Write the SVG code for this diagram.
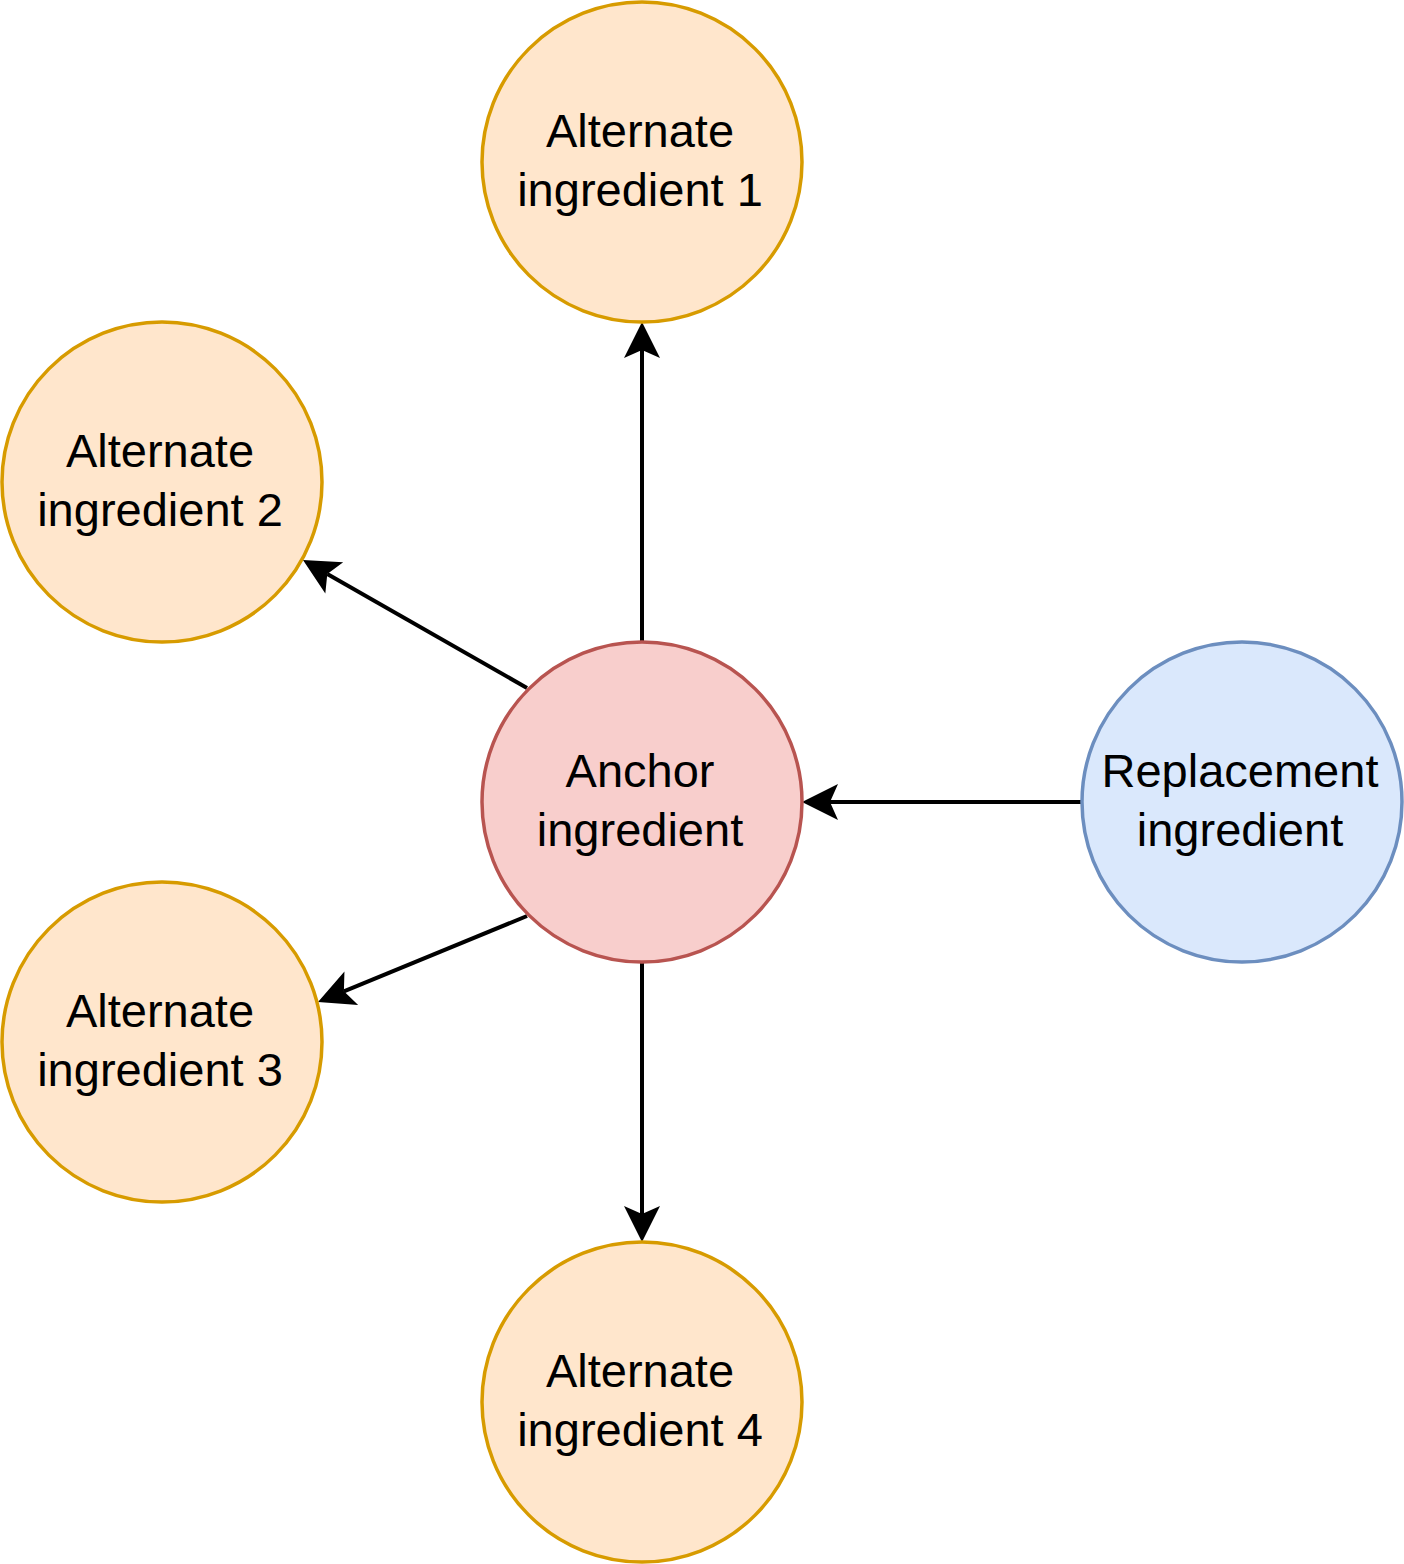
<svg xmlns="http://www.w3.org/2000/svg" width="1404" height="1564" viewBox="0 0 1404 1564">
<defs>
<style>
.alt{fill:#ffe6cc;stroke:#d79b00;stroke-width:3.5}
.anc{fill:#f8cecc;stroke:#b85450;stroke-width:3.5}
.rep{fill:#dae8fc;stroke:#6c8ebf;stroke-width:3.5}
text{font-family:"Liberation Sans",Arial,Helvetica,sans-serif;font-size:47px;fill:#000;text-anchor:middle}
.edge{stroke:#000;stroke-width:4;fill:none;marker-end:url(#arr)}
</style>
<marker id="arr" markerUnits="userSpaceOnUse" viewBox="-10 -20 40 40" refX="0" refY="0" markerWidth="40" markerHeight="40" orient="auto">
<path d="M28,0 L-8,-18 L0,0 L-8,18 Z" fill="#000"/>
</marker>
</defs>
<rect width="1404" height="1564" fill="#fff"/>
<g id="connectors">
<line class="edge" x1="642" y1="641" x2="642" y2="350"/>
<line class="edge" x1="527" y1="688" x2="327.3" y2="573.9"/>
<line class="edge" x1="527" y1="916" x2="343.9" y2="991.3"/>
<line class="edge" x1="642" y1="963" x2="642" y2="1214"/>
<line class="edge" x1="1081" y1="802" x2="830" y2="802"/>
</g>
<g id="alt1"><circle class="alt" cx="642" cy="162" r="160"/><text x="640" y="147">Alternate</text><text x="640" y="206">ingredient 1</text></g>
<g id="alt2"><circle class="alt" cx="162" cy="482" r="160"/><text x="160" y="467">Alternate</text><text x="160" y="526">ingredient 2</text></g>
<g id="anchor"><circle class="anc" cx="642" cy="802" r="160"/><text x="640" y="787">Anchor</text><text x="640" y="846">ingredient</text></g>
<g id="replacement"><circle class="rep" cx="1242" cy="802" r="160"/><text x="1240" y="787">Replacement</text><text x="1240" y="846">ingredient</text></g>
<g id="alt3"><circle class="alt" cx="162" cy="1042" r="160"/><text x="160" y="1027">Alternate</text><text x="160" y="1086">ingredient 3</text></g>
<g id="alt4"><circle class="alt" cx="642" cy="1402" r="160"/><text x="640" y="1387">Alternate</text><text x="640" y="1446">ingredient 4</text></g>
</svg>
